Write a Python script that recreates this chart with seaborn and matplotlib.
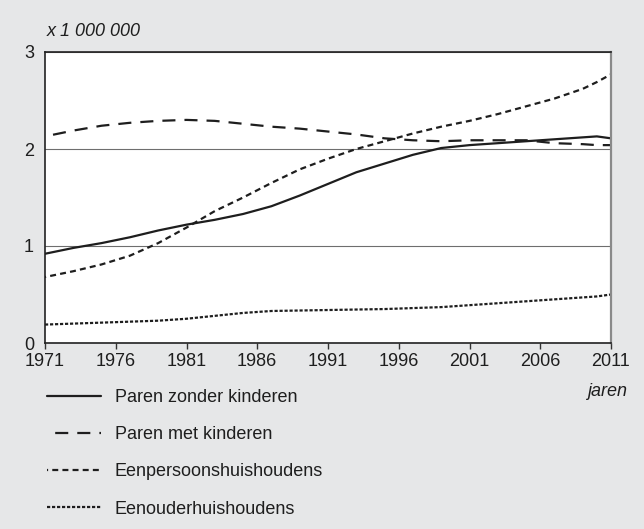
import pandas as pd
import matplotlib
matplotlib.use("Agg")
import matplotlib.pyplot as plt
import seaborn as sns

# values (x 1 000 000 households)
years = [1971, 1973, 1975, 1977, 1979, 1981, 1983, 1985, 1987, 1989, 1991,
         1993, 1995, 1997, 1999, 2001, 2003, 2005, 2007, 2009, 2010, 2011]
zonder_kinderen = [0.92, 0.98, 1.03, 1.09, 1.16, 1.22, 1.27, 1.33, 1.41, 1.52, 1.64,
                   1.76, 1.85, 1.94, 2.01, 2.04, 2.06, 2.08, 2.10, 2.12, 2.13, 2.11]
met_kinderen = [2.13, 2.19, 2.24, 2.27, 2.29, 2.30, 2.29, 2.26, 2.23, 2.21, 2.18,
                2.15, 2.11, 2.09, 2.08, 2.09, 2.09, 2.09, 2.06, 2.05, 2.04, 2.04]
eenpersoons = [0.68, 0.74, 0.81, 0.90, 1.03, 1.19, 1.36, 1.50, 1.65, 1.79, 1.90,
               2.00, 2.08, 2.16, 2.23, 2.29, 2.36, 2.44, 2.52, 2.62, 2.69, 2.77]
eenouder = [0.19, 0.20, 0.21, 0.22, 0.23, 0.25, 0.28, 0.31, 0.33, 0.335, 0.34,
            0.345, 0.35, 0.36, 0.37, 0.39, 0.41, 0.43, 0.45, 0.47, 0.48, 0.50]

labels = ["Paren zonder kinderen", "Paren met kinderen",
          "Eenpersoonshuishoudens", "Eenouderhuishoudens"]
xticks = [1971, 1976, 1981, 1986, 1991, 1996, 2001, 2006, 2011]
yticks = [0, 1, 2, 3]

sns.set_theme(style="white")
plt.rcParams["font.family"] = ["Liberation Sans", "DejaVu Sans"]
plt.rcParams["lines.scale_dashes"] = False

bg = "#e6e7e8"
ink = "#1e1e1e"
fs = 13

fig = plt.figure(figsize=(6.44, 5.29), dpi=100, facecolor=bg)
ax = fig.add_axes([45 / 644, 1 - 343 / 529, 566 / 644, 291 / 529])
ax.set_facecolor("white")

styles = ["-", (10, (9.4, 6.5)), (3.5, (4.3, 3.0)), (0, (2.3, 1.3))]
series = [zonder_kinderen, met_kinderen, eenpersoons, eenouder]
for vals, lab, ls in zip(series, labels, styles):
    sns.lineplot(x=years, y=vals, ax=ax, color=ink, linewidth=1.6,
                 linestyle=ls, label=lab)

ax.set_xlim(1971, 2011)
ax.set_ylim(0, 3)
ax.set_xticks(xticks)
ax.set_yticks(yticks)
ax.tick_params(axis="x", length=4, width=1, color="#333333", direction="out",
               pad=3, labelsize=fs, labelcolor=ink, bottom=True)
ax.tick_params(axis="y", length=0, pad=8, labelsize=fs, labelcolor=ink)
ax.set_xlabel("")
ax.set_ylabel("")

ax.set_axisbelow(True)
ax.grid(axis="y", color="#6e6e6e", linewidth=0.8)
ax.grid(axis="x", visible=False)

for side in ["left", "bottom", "top"]:
    ax.spines[side].set_color("#222222")
    ax.spines[side].set_linewidth(1.2)
ax.spines["right"].set_color("#8a8a8a")
ax.spines["right"].set_linewidth(1.6)

fig.text(47 / 644, 1 - 31 / 529, "x 1 000 000", style="italic", fontsize=fs,
         color=ink, ha="left", va="center")
fig.text(627 / 644, 1 - 392 / 529, "jaren", style="italic", fontsize=fs,
         color=ink, ha="right", va="center")

ax.legend(loc="upper left", bbox_to_anchor=(47 / 644, 1 - 389 / 529),
          bbox_transform=fig.transFigure, frameon=False, fontsize=fs,
          handlelength=3.0, handletextpad=0.75, labelspacing=1.12,
          borderpad=0, borderaxespad=0, labelcolor=ink)

fig.savefig("out.png", dpi=100, facecolor=bg)
